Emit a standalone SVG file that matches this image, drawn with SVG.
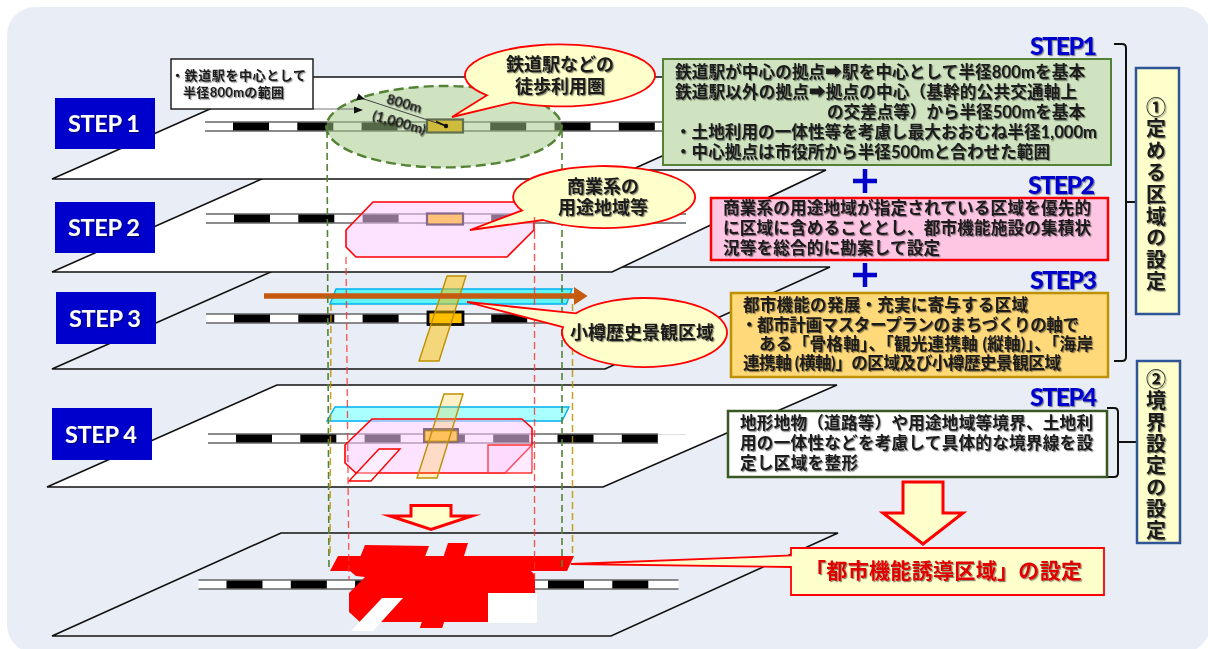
<svg xmlns="http://www.w3.org/2000/svg" xmlns:xlink="http://www.w3.org/1999/xlink" width="1208" height="649" viewBox="0 0 1208 649">
<style>
.plate{stroke:#111;stroke-width:1.6;stroke-linejoin:miter}
.t{font-family:"Lato","Noto Sans CJK JP","DejaVu Sans",sans-serif;font-weight:700;fill:#1a1a1a;font-size:16.6px;filter:url(#sh)}
.c{text-anchor:middle;font-size:18px}
.step{font-family:"Lato",sans-serif;font-weight:900;font-size:25px;fill:#0000cc;filter:url(#sh)}
.tag{fill:#0000cc}
.tagt{font-family:"Lato",sans-serif;font-weight:700;font-size:23.5px;fill:#fff;text-anchor:middle;filter:url(#sh)}
.call{fill:#ffffcc;stroke:#f00;stroke-width:1.8;stroke-linejoin:miter}
.v{font-family:"Noto Sans CJK JP","DejaVu Sans",sans-serif;font-weight:700;font-size:20px;fill:#1a1a1a;writing-mode:vertical-rl;filter:url(#sh)}
.vb{fill:#ffffcc;stroke:#2f5597;stroke-width:2.5}
.dg{stroke:#548235;stroke-width:1.6;stroke-dasharray:7 4;fill:none}
.dy{stroke:#bf9000;stroke-width:1.5;stroke-dasharray:7 4;fill:none;opacity:.85}
.dr{stroke:#f33;stroke-width:1.3;stroke-dasharray:7 4;fill:none;opacity:.85}
.br{fill:none;stroke:#111;stroke-width:2}
.pink{fill:#fcccff;fill-opacity:.55;stroke:#f00;stroke-width:1.6}
.cyan{stroke:#00b0f0;stroke-width:1.4}
.gold{stroke:#bf9000;stroke-width:1.4}
.arr{fill:#ffffcc;stroke:#f00;stroke-linejoin:miter;stroke-miterlimit:12}
.red{fill:#f00}
.plus{stroke:#0000cc;stroke-width:4.5;fill:none}
</style>
<defs>
<filter id="sh" x="-5%" y="-20%" width="112%" height="150%"><feDropShadow dx="1.2" dy="1.2" stdDeviation="0.7" flood-color="#000" flood-opacity="0.45"/></filter>
<g id="track">
<rect x="0" y="0" width="480" height="9" fill="#fff"/>
<rect x="28" y="0" width="36" height="9" fill="#000"/>
<rect x="92.3" y="0" width="36" height="9" fill="#000"/>
<rect x="156.6" y="0" width="36" height="9" fill="#000"/>
<rect x="220.9" y="0" width="36" height="9" fill="#000"/>
<rect x="285.2" y="0" width="36" height="9" fill="#000"/>
<rect x="349.5" y="0" width="36" height="9" fill="#000"/>
<rect x="413.8" y="0" width="36" height="9" fill="#000"/>
<path d="M0 0H480M0 9H480" stroke="#666" stroke-width="1.3" fill="none"/>
</g>
<marker id="ah" viewBox="0 0 8 8" refX="1" refY="4" markerWidth="8" markerHeight="8" orient="auto-start-reverse" markerUnits="userSpaceOnUse"><path d="M0 4L8 0.5V7.5Z" fill="#111"/></marker>
</defs>

<rect width="1208" height="649" fill="#fff"/>
<rect x="7" y="7" width="1203" height="646" rx="28" fill="#e9eef6"/>

<g id="plates">
<path class="plate" fill="none" d="M52 636L281 533H838L611 636Z"/>
<path class="plate" fill="#fff" d="M47 487L277 385H837L603 487Z"/>
<path class="plate" fill="none" d="M52 369L282 267H830L605 369Z"/>
<path class="plate" fill="#fff" d="M52 272L282 170H826L612 272Z"/>
<path class="plate" fill="#fff" d="M52 179L282 77H838L611 179Z"/>
</g>

<g id="layer-step1">
<use xlink:href="#track" href="#track" x="205" y="122"/>
<ellipse cx="444" cy="126.700" rx="117.700" ry="40.700" fill="#a5ca87" fill-opacity=".52" stroke="#548235" stroke-width="2.400" stroke-dasharray="10 5"/>
<rect x="427" y="119.500" width="36" height="13" fill="#cfbb3c" stroke="#5f6f50" stroke-width="2.200"/>
<path d="M313 109H354" stroke="#777" stroke-width="1" fill="none"/>
<path d="M354 106.500L363 110L354 113.500Z" fill="#111"/>
<path d="M364 99L446 126" stroke="#444" stroke-width="1" marker-start="url(#ah)" fill="none"/>
<path d="M436 121.500L446 126" stroke="#111" stroke-width="1.400" fill="none"/>
<circle cx="446" cy="126" r="2.200" fill="#111"/>
<text class="t" transform="translate(403 108) rotate(16)" style="font-size:14px" text-anchor="middle">800m</text>
<text class="t" transform="translate(398 127) rotate(16)" style="font-size:14px" text-anchor="middle">(1,000m)</text>
</g>

<g id="layer-step2">
<use xlink:href="#track" href="#track" x="206" y="214"/>
<path class="pink" d="M373 202H525L534 218V230L507 257H356L346 247V230Z"/>
<rect x="427" y="213.500" width="36" height="11" fill="#ffc278" stroke="#85688a" stroke-width="2.200"/>
</g>

<g id="layer-step3">
<path class="cyan" fill="#5ff5f7" d="M336 289H572L566.500 304H330Z"/>
<use xlink:href="#track" href="#track" x="206" y="314"/>
<rect x="428" y="312" width="35" height="12.500" fill="#ffc000" stroke="#000" stroke-width="2.800"/>
<path class="gold" fill="#ffc000" fill-opacity=".5" d="M447 276H466L439 361H419Z"/>
<path d="M264 296H574" stroke="#c55a11" stroke-width="5.500" fill="none"/>
<path d="M574 287L587.500 296L574 305Z" fill="#c55a11"/>
</g>

<g id="layer-step4">
<use xlink:href="#track" href="#track" x="208" y="434"/>
<rect x="658" y="432" width="32" height="13" fill="#fff"/>
<path d="M658 434.500H686" stroke="#ddd" stroke-width="1"/>
<path class="cyan" fill="#aaffff" d="M335 407H569L562 421H327Z"/>
<path class="pink" d="M372 419H522L532 428V445L505 473H356L345 463V445Z"/>
<path d="M488 445H532V473H488Z" fill="#fcccff" fill-opacity=".4" stroke="#f33" stroke-width="1.300"/>
<path d="M379 449H400L371 481H349Z" fill="#fff" fill-opacity=".4" stroke="#f00" stroke-width="1.400"/>
<rect x="423" y="428" width="36" height="15" fill="#85688a"/>
<rect x="425" y="431" width="32" height="10" fill="#ffc278" stroke="#bf9000" stroke-width=".8"/>
<path class="gold" fill="#ffc000" fill-opacity=".22" d="M444 394H463L437 478H417Z"/>
</g>

<g id="layer-result">
<use xlink:href="#track" href="#track" x="198.500" y="580"/>
<path fill="#fff" d="M488 593H537V623H488Z"/>
<path class="red" d="M338 556H574L567 571H531L535 575V593H488V622H444L442 628H420L422 622H360L349 612V593L365 577L356 576L350 571H330Z"/>
<path class="red" d="M365 545L429 546L420 570H355Z"/>
<path class="red" d="M448 543H468L442 628H420Z"/>
<path fill="#fff" d="M382 598H403L373 631H351Z"/>
</g>

<g id="connectors">
<path class="dg" d="M327 131L329 571"/>
<path class="dg" d="M562 131V568"/>
<path class="dy" d="M331 304L330 556"/>
<path class="dy" d="M572.500 304V556"/>
<path class="dr" d="M346 257L349 580"/>
<path class="dr" d="M534.500 232V580"/>
<path class="br" d="M1114 44H1122Q1126 44 1126 48V357Q1126 361 1122 361H1114M1126 202H1136"/>
<path class="br" d="M1107 408H1114Q1118 408 1118 412V473Q1118 477 1114 477H1107M1118 442H1137"/>
<path class="plus" d="M853 181H877M865 169V193"/>
<path class="plus" d="M853 275H877M865 263V287"/>
</g>

<g id="tag-step1"><rect class="tag" x="55" y="98" width="100" height="51"/><text class="tagt" x="104" y="132" textLength="72">STEP 1</text></g>
<g id="tag-step2"><rect class="tag" x="55" y="202" width="100" height="51"/><text class="tagt" x="104" y="236" textLength="72">STEP 2</text></g>
<g id="tag-step3"><rect class="tag" x="56" y="292" width="100" height="52"/><text class="tagt" x="105" y="327" textLength="72">STEP 3</text></g>
<g id="tag-step4"><rect class="tag" x="52" y="408" width="100" height="52"/><text class="tagt" x="101" y="443" textLength="72">STEP 4</text></g>

<g id="note-range">
<rect x="171" y="59" width="142" height="50" fill="#fff" stroke="#222" stroke-width="1.500"/>
<text class="t" x="171" y="80" style="font-size:13px" textLength="135">・鉄道駅を中心として</text>
<text class="t" x="183" y="97" style="font-size:13px" textLength="101">半径800mの範囲</text>
</g>

<g id="callout-station">
<path class="call" d="M513 102.400A95 31 0 1 0 487 95.300L452 117Z"/>
<text class="t c" x="560" y="71">鉄道駅などの</text>
<text class="t c" x="560" y="93">徒歩利用圏</text>
</g>
<g id="callout-commercial">
<path class="call" d="M543 220A91 31 0 1 0 522 210.400L470 230Z"/>
<text class="t c" x="603" y="193">商業系の</text>
<text class="t c" x="603" y="214">用途地域等</text>
<path class="dr" d="M534.500 217V232"/>
</g>
<g id="callout-landscape">
<path class="call" d="M563 327.200A82.500 34.500 0 1 0 576 313.300L467 302Z"/>
<text class="t c" x="642" y="339">小樽歴史景観区域</text>
</g>

<g id="step1-box">
<text class="step" x="1030" y="55" textLength="67">STEP1</text>
<rect x="663" y="59" width="448" height="106" fill="#cfe3c0" stroke="#548235" stroke-width="2"/>
<text class="t" x="675" y="77.500" textLength="410">鉄道駅が中心の拠点➡駅を中心として半径800mを基本</text>
<text class="t" x="675" y="97.500" textLength="402">鉄道駅以外の拠点➡拠点の中心（基幹的公共交通軸上</text>
<text class="t" x="827" y="117.500" textLength="258">の交差点等）から半径500mを基本</text>
<text class="t" x="675" y="138" textLength="422">・土地利用の一体性等を考慮し最大おおむね半径1,000m</text>
<text class="t" x="675" y="158" textLength="375">・中心拠点は市役所から半径500mと合わせた範囲</text>
</g>
<g id="step2-box">
<text class="step" x="1028" y="194" textLength="67">STEP2</text>
<rect x="711" y="198" width="397" height="62" fill="#ffc6e3" stroke="#f00" stroke-width="2.500"/>
<text class="t" x="723" y="214" textLength="368">商業系の用途地域が指定されている区域を優先的</text>
<text class="t" x="723" y="234" textLength="368">に区域に含めることとし、都市機能施設の集積状</text>
<text class="t" x="723" y="254" textLength="217">況等を総合的に勘案して設定</text>
</g>
<g id="step3-box">
<text class="step" x="1030" y="289" textLength="67">STEP3</text>
<rect x="731" y="293" width="377" height="84" fill="#ffd97a" stroke="#bf9000" stroke-width="2.500"/>
<text class="t" x="743" y="311" textLength="285">都市機能の発展・充実に寄与する区域</text>
<text class="t" x="741" y="331" textLength="338">・都市計画マスタープランのまちづくりの軸で</text>
<text class="t" x="759" y="350" textLength="334">ある「骨格軸」、「観光連携軸 (縦軸)」、「海岸</text>
<text class="t" x="743" y="369" textLength="318">連携軸 (横軸)」の区域及び小樽歴史景観区域</text>
</g>
<g id="step4-box">
<text class="step" x="1030" y="406" textLength="67">STEP4</text>
<rect x="728" y="411" width="379" height="66" fill="#fff" stroke="#385723" stroke-width="2.500"/>
<text class="t" x="740" y="429" textLength="353">地形地物（道路等）や用途地域等境界、土地利</text>
<text class="t" x="740" y="449" textLength="353">用の一体性などを考慮して具体的な境界線を設</text>
<text class="t" x="740" y="469" textLength="118">定し区域を整形</text>
</g>

<g id="side-define">
<rect class="vb" x="1136" y="68" width="43" height="246"/>
<text class="v" x="1156" y="97" style="letter-spacing:1.800px">①定める区域の設定</text>
</g>
<g id="side-boundary">
<rect class="vb" x="1137" y="361" width="43" height="182"/>
<text class="v" x="1156" y="369" style="letter-spacing:1.600px">②境界設定の設定</text>
</g>

<g id="arrow-center"><path class="arr" stroke-width="3" d="M411 505.500H451V516H472L431 529.500L390 516H411Z"/></g>
<g id="arrow-right"><path class="arr" stroke-width="3" d="M903 482H943V513H963L923 544L883 513H903Z"/></g>

<g id="result-box">
<path class="call" d="M791 548H1104V595H791V567L571 564L791 555.500Z" stroke-width="2.200"/>
<text class="t" x="805" y="577.500" style="font-size:21px;fill:#e00000" textLength="277">「都市機能誘導区域」の設定</text>
</g>
</svg>
